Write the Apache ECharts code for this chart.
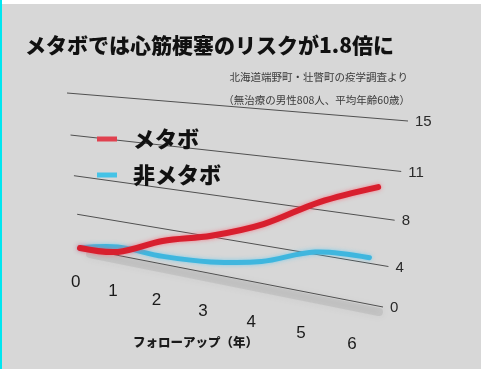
<!DOCTYPE html>
<html>
<head>
<meta charset="utf-8">
<script src="https://cdn.jsdelivr.net/npm/echarts@6/dist/echarts.min.js"></script>
<style>
  html, body { margin: 0; padding: 0; background: #fff; }
  #main { position: absolute; left: 0; top: 0; width: 481px; height: 369px; }
  #edgeLeft { position: absolute; left: 0; top: 0; width: 2px; height: 369px; background: #00e6f0; }
  #edgeTop { position: absolute; left: 2px; top: 0; width: 479px; height: 4px; background: #fff; }
</style>
</head>
<body>
<div id="main"></div>
<div id="edgeLeft"></div>
<div id="edgeTop"></div>
<script>
// follow-up years and the (oddly spaced) tick labels on the right
const years = [0, 1, 2, 3, 4, 5, 6];
const yTicks = [0, 4, 8, 11, 15];
// values
const metabo = [0, 0.5, 2.7, 4.1, 6.0, 8.5, 9.9];
const nonMetabo = [0, 1.1, 1.0, 1.4, 2.4, 4.2, 4.5];

const xMin = 0, xMax = 6.36;
const CJK = '"Noto Sans CJK JP", "Noto Sans", sans-serif';

// tick values are drawn evenly spaced, so turn a value into a tick position
function toPos(v) {
  for (let i = 1; i < yTicks.length; i++) {
    if (v <= yTicks[i]) return (i - 1) + (v - yTicks[i - 1]) / (yTicks[i] - yTicks[i - 1]);
  }
  return yTicks.length - 1;
}

// the plane is drawn in perspective: map the flat grid onto a tilted quad
const quad = { bl: [80, 248], br: [383, 307], tl: [67, 93], tr: [408, 121] };
function warp(params, api, t, pos) {
  const p = api.coord([t, pos]);
  const cs = params.coordSys;
  let u = (p[0] - cs.x) / cs.width;
  let w = (cs.y + cs.height - p[1]) / cs.height;
  u = Math.sign(u) * Math.pow(Math.abs(u), 1.12);
  w = Math.sign(w) * Math.pow(Math.abs(w), 1.1);
  const bx = quad.bl[0] + u * (quad.br[0] - quad.bl[0]);
  const by = quad.bl[1] + u * (quad.br[1] - quad.bl[1]);
  const tx = quad.tl[0] + u * (quad.tr[0] - quad.tl[0]);
  const ty = quad.tl[1] + u * (quad.tr[1] - quad.tl[1]);
  return [bx + w * (tx - bx), by + w * (ty - by)];
}

function lineSeries(name, values, color, width, glow) {
  return {
    name: name,
    type: 'custom',
    coordinateSystem: 'cartesian2d',
    itemStyle: { color: color },
    data: years.map((t, i) => [t, toPos(values[i])]),
    z: 5,
    renderItem: (params, api) => {
      if (params.dataIndex !== 0) return null;
      const pts = years.map((t, i) => warp(params, api, t, toPos(values[i])));
      return {
        type: 'polyline',
        shape: { points: pts, smooth: 0.35 },
        style: {
          fill: null, stroke: color, lineWidth: width, lineCap: 'round', lineJoin: 'round',
          shadowBlur: 4, shadowColor: glow
        }
      };
    }
  };
}

const chart = echarts.init(document.getElementById('main'));

const option = {
  animation: false,
  backgroundColor: '#d7d7d7',
  title: {
    text: 'メタボでは心筋梗塞のリスクが1.8倍に',
    left: 20, top: 30,
    textStyle: { fontFamily: CJK, fontSize: 21, fontWeight: 900, color: '#111' }
  },
  legend: {
    orient: 'vertical',
    left: 92, top: 123,
    itemWidth: 20, itemHeight: 5, itemGap: 14,
    icon: 'rect',
    textStyle: { fontFamily: CJK, fontSize: 22, fontWeight: 900, color: '#111', padding: [0, 0, 0, 11] },
    data: [
      { name: 'メタボ', itemStyle: { color: '#e0414f' } },
      { name: '非メタボ', itemStyle: { color: '#45c3e6' } }
    ]
  },
  grid: { left: 0, right: 0, top: 0, bottom: 0 },
  xAxis: { type: 'value', min: xMin, max: xMax, show: false },
  yAxis: { type: 'value', min: 0, max: yTicks.length - 1, show: false },
  graphic: [
    {
      type: 'text', x: 408, y: 77,
      style: { text: '北海道端野町・壮瞥町の疫学調査より', font: '10.5px ' + CJK, fill: '#3a3a3a', textAlign: 'right', textVerticalAlign: 'middle' }
    },
    {
      type: 'text', x: 410, y: 100,
      style: { text: '（無治療の男性808人、平均年齢60歳）', font: '10.5px ' + CJK, fill: '#3a3a3a', textAlign: 'right', textVerticalAlign: 'middle' }
    },
    {
      type: 'text', x: 133, y: 342,
      style: { text: 'フォローアップ（年）', font: '900 12.5px ' + CJK, fill: '#1a1a1a', textVerticalAlign: 'middle' }
    }
  ],
  series: [
    {
      type: 'custom',
      coordinateSystem: 'cartesian2d',
      silent: true,
      z: 1,
      data: yTicks.map(v => [xMin, toPos(v)]),
      renderItem: (params, api) => {
        const pos = api.value(1);
        const a = warp(params, api, xMin, pos), b = warp(params, api, xMax, pos);
        const children = [];
        if (params.dataIndex === 0) {
          children.push({
            type: 'line',
            shape: { x1: a[0] + 10, y1: a[1] + 6, x2: b[0] - 4, y2: b[1] + 5 },
            style: { stroke: 'rgba(140,140,140,0.22)', lineWidth: 8, lineCap: 'round', shadowBlur: 7, shadowColor: 'rgba(120,120,120,0.45)' }
          });
        }
        children.push({
          type: 'line',
          shape: { x1: a[0], y1: a[1], x2: b[0], y2: b[1] },
          style: { stroke: '#505050', lineWidth: 1 }
        });
        children.push({
          type: 'text',
          x: b[0] + 7, y: b[1] + 1,
          style: {
            text: String(yTicks[params.dataIndex]),
            font: '15px "Liberation Sans", sans-serif',
            fill: '#2a2a2a', textAlign: 'left', textVerticalAlign: 'middle'
          }
        });
        return { type: 'group', children: children };
      }
    },
    {
      type: 'custom',
      coordinateSystem: 'cartesian2d',
      silent: true,
      z: 1,
      data: years.map(t => [t, -1]),
      renderItem: (params, api) => {
        const p = warp(params, api, api.value(0), api.value(1));
        return {
          type: 'text',
          x: p[0] - 7, y: p[1] + 1,
          style: {
            text: String(years[params.dataIndex]),
            font: '17px "Liberation Sans", sans-serif',
            fill: '#1a1a1a', textAlign: 'center', textVerticalAlign: 'middle'
          }
        };
      }
    },
    lineSeries('非メタボ', nonMetabo, '#3fb6de', 5, 'rgba(90,200,240,0.7)'),
    lineSeries('メタボ', metabo, '#d81f2e', 6, 'rgba(255,90,110,0.7)')
  ]
};

chart.setOption(option);
</script>
</body>
</html>
